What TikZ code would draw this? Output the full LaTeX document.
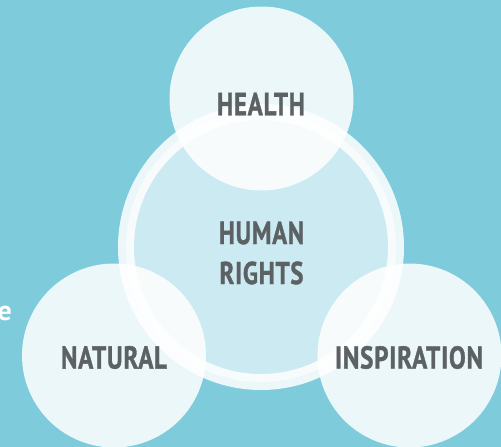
\documentclass[tikz,border=0pt]{standalone}
\usepackage{fontspec}
\setmainfont{PT Sans}
\usepackage{graphicx}
\definecolor{bgc}{HTML}{7ECBDC}
\definecolor{txt}{HTML}{5C6164}
\newcommand\lbl[2]{\resizebox{#1pt}{22.5pt}{\bfseries\addfontfeature{LetterSpace=3,FakeBold=1.2}#2}}
\tikzset{
  petal/.style={circle, minimum size=184pt, inner sep=0pt, fill=white, fill opacity=0.85},
  hub/.style={circle, minimum size=270pt, inner sep=0pt, fill=white, fill opacity=0.6, draw=white, draw opacity=0.85, line width=16pt},
  lab/.style={text=txt, inner sep=0pt, align=center, font=\fontsize{10}{40}\selectfont}
}
\begin{document}
\begin{tikzpicture}[x=1pt,y=-1pt]
\useasboundingbox (0,0) rectangle (501,447);
\fill[bgc] (0,0) rectangle (501,447);
\node (e) [anchor=base east, text=white, inner sep=0pt, font=\bfseries\fontsize{28}{28}\selectfont] at (12,320) {e};
\node[hub] (center) at (261,247) {};
\node[petal] (top) at (261.5,98.5) {};
\node[petal] (left) at (114,355.5) {};
\node[petal] (right) at (409.5,355.5) {};
\node[lab] (health) at (261,104) {\lbl{88}{HEALTH}};
\node[lab] (hr) at (261.5,253) {\lbl{85}{HUMAN}\\\lbl{84}{RIGHTS}};
\node[lab] (natural) at (114,357.5) {\lbl{106}{NATURAL}};
\node[lab] (inspiration) at (409,357.5) {\lbl{148}{INSPIRATION}};
\end{tikzpicture}
\end{document}
